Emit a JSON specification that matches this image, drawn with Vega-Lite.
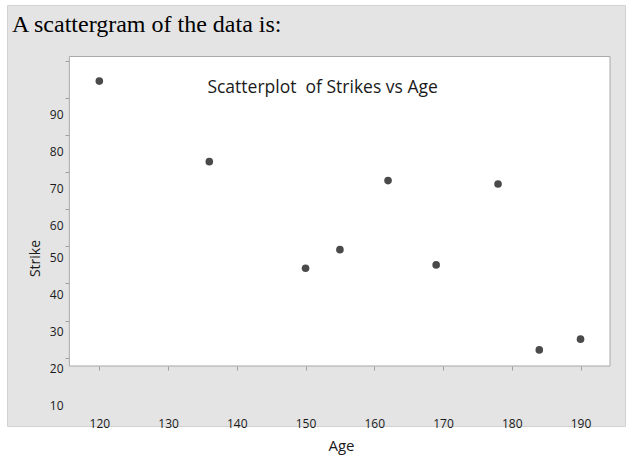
{
  "$schema": "https://vega.github.io/schema/vega-lite/v6.json",
  "width": 618,
  "height": 421,
  "autosize": "none",
  "padding": {"left": 7, "top": 5, "right": 4, "bottom": 30},
  "background": "white",
  "title": {
    "text": "A scattergram of the data is:",
    "anchor": "start",
    "frame": "group",
    "font": "Liberation Serif",
    "fontSize": 24,
    "fontWeight": "normal",
    "color": "#000000",
    "baseline": "alphabetic",
    "offset": -51,
    "dx": 5
  },
  "config": {
    "view": {"fill": "#e4e4e4", "stroke": "#d2d2d2", "strokeWidth": 1}
  },
  "data": {
    "values": [
      {"Age": 120, "Strike": 84.5},
      {"Age": 136, "Strike": 62.8},
      {"Age": 150, "Strike": 34.1},
      {"Age": 155, "Strike": 39.1},
      {"Age": 162, "Strike": 57.7},
      {"Age": 169, "Strike": 35.0},
      {"Age": 178, "Strike": 56.8},
      {"Age": 184, "Strike": 12.1},
      {"Age": 190, "Strike": 15.0}
    ]
  },
  "layer": [
    {
      "data": {"values": [{}]},
      "mark": {"type": "rect", "fill": "white", "stroke": "#a8a8a8", "strokeWidth": 1},
      "encoding": {
        "x": {"datum": 115.64, "type": "quantitative"},
        "x2": {"datum": 194.29},
        "y": {"datum": 91.13, "type": "quantitative"},
        "y2": {"datum": 7.76}
      }
    },
    {
      "data": {"values": [{}]},
      "mark": {"type": "text", "font": "Open Sans", "fontSize": 17.5, "color": "#1a1a1a", "align": "center", "baseline": "alphabetic"},
      "encoding": {
        "x": {"datum": 152.48, "type": "quantitative"},
        "y": {"datum": 81.38, "type": "quantitative"},
        "text": {"value": "Scatterplot\u00a0 of Strikes vs Age"}
      }
    },
    {
      "mark": {"type": "point", "filled": true, "color": "#4a4a4a", "size": 58, "opacity": 1},
      "encoding": {
        "x": {
          "field": "Age",
          "type": "quantitative",
          "scale": {"domain": [106.57, 196.47], "nice": false, "zero": false},
          "axis": {
            "values": [120, 130, 140, 150, 160, 170, 180, 190],
            "orient": "bottom",
            "offset": -60,
            "domain": false,
            "grid": false,
            "tickSize": 4,
            "tickColor": "#a0a0a0",
            "labelPadding": 48,
            "labelFont": "Open Sans",
            "labelFontSize": 12,
            "labelColor": "#1a1a1a",
            "title": "Age",
            "titleFont": "Open Sans",
            "titleFontSize": 15,
            "titleFontWeight": "normal",
            "titleColor": "#1a1a1a",
            "titlePadding": 9,
            "titleX": 334
          }
        },
        "y": {
          "field": "Strike",
          "type": "quantitative",
          "scale": {"domain": [-8.4, 105.0], "nice": false, "zero": false},
          "axis": {
            "values": [10, 20, 30, 40, 50, 60, 70, 80, 90],
            "orient": "left",
            "offset": -62,
            "domain": false,
            "grid": false,
            "tickSize": 4,
            "tickColor": "#a0a0a0",
            "labelOffset": {"condition": {"test": "datum.value >= 60", "value": 53.5}, "value": 48},
            "labelPadding": 2,
            "labelFont": "Open Sans",
            "labelFontSize": 12,
            "labelColor": "#1a1a1a",
            "title": "Strike",
            "titleFont": "Open Sans",
            "titleFontSize": 14,
            "titleFontWeight": "normal",
            "titleColor": "#1a1a1a",
            "titlePadding": 7,
            "titleY": 253
          }
        }
      }
    }
  ]
}
